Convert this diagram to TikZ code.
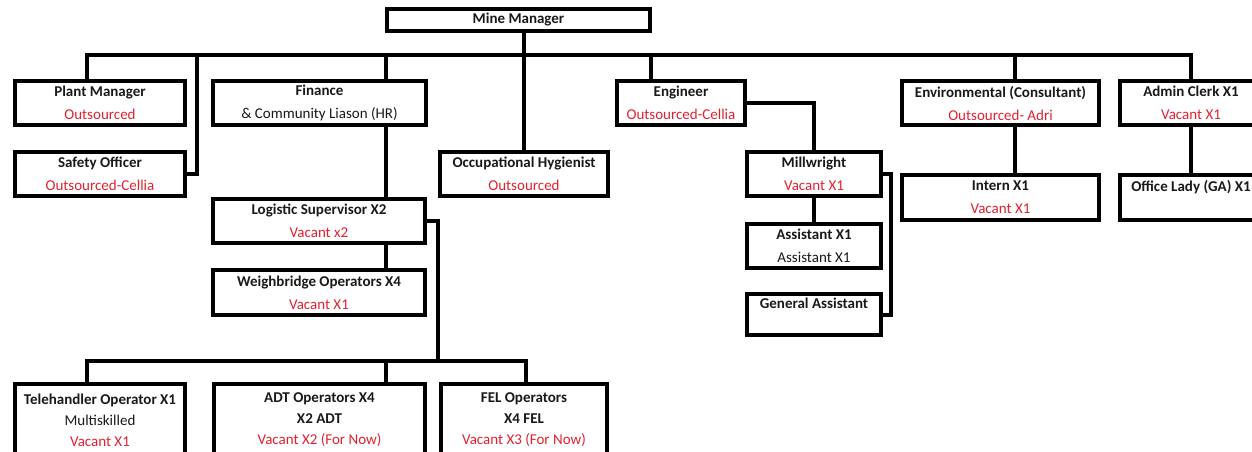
\documentclass[tikz,border=0pt]{standalone}
\usepackage{fontspec}
\setmainfont{Carlito}
\usepackage{tikz}
\definecolor{vacant}{RGB}{228,32,48}
\definecolor{ink}{RGB}{25,25,25}
\tikzset{
    post/.style={draw=black, line width=4pt, rectangle, align=center, inner sep=0pt,
        text=ink, font=\fontsize{15}{23}\selectfont},
    crew/.style={post, font=\fontsize{15}{21}\selectfont},
    link/.style={draw=black, line width=4pt}
}

\begin{document}
\begin{tikzpicture}[x=1pt, y=-1pt]
\path[use as bounding box, clip] (0,0) rectangle (1252,451);
\node[post, minimum width=263, minimum height=22] (mm) at (518.5,20) {\textbf{Mine Manager}};
\node[post, minimum width=170, minimum height=44] (pm) at (100,103)
    {\textbf{Plant Manager}\\\textcolor{vacant}{Outsourced}};
\node[post, minimum width=170, minimum height=44] (so) at (100,174)
    {\textbf{Safety Officer}\\\textcolor{vacant}{Outsourced-Cellia}};
\node[post, minimum width=213, minimum height=44] (fin) at (319.5,103)
    {\textbf{Finance}\\\& Community Liason (HR)};
\node[post, minimum width=168, minimum height=44] (oh) at (524,174)
    {\textbf{Occupational Hygienist}\\\textcolor{vacant}{Outsourced}};
\node[post, minimum width=128, minimum height=44] (eng) at (681,103)
    {\textbf{Engineer}\\\textcolor{vacant}{Outsourced-Cellia}};
\node[post, minimum width=134, minimum height=44] (mw) at (814,174)
    {\textbf{Millwright}\\\textcolor{vacant}{Vacant X1}};
\node[post, minimum width=134, minimum height=44] (as) at (814,246)
    {\textbf{Assistant X1}\\Assistant X1};
\node[post, minimum width=134, minimum height=41] (ga) at (814,314.5)
    {\textbf{General Assistant}\\~};
\node[post, minimum width=197, minimum height=44] (env) at (1000.5,103)
    {\textbf{Environmental (Consultant)}\\\textcolor{vacant}{Outsourced- Adri}};
\node[post, minimum width=197, minimum height=45] (int) at (1000.5,197.5)
    {\textbf{Intern X1}\\\textcolor{vacant}{Vacant X1}};
\node[post, minimum width=142, minimum height=44] (ac) at (1191,103)
    {\textbf{Admin Clerk X1}\\\textcolor{vacant}{Vacant X1}};
\node[post, minimum width=142, minimum height=45] (ol) at (1191,197.5)
    {\textbf{Office Lady (GA) X1}\\~};
\node[post, minimum width=212, minimum height=44] (ls) at (319,221)
    {\textbf{Logistic Supervisor X2}\\\textcolor{vacant}{Vacant x2}};
\node[post, minimum width=212, minimum height=45] (wb) at (319,292.5)
    {\textbf{Weighbridge Operators X4}\\\textcolor{vacant}{Vacant X1}};
\node[crew, minimum width=170, minimum height=72] (th) at (100,420)
    {\textbf{Telehandler Operator X1}\\Multiskilled\\\textcolor{vacant}{Vacant X1}};
\node[crew, minimum width=211, minimum height=72] (adt) at (319.5,420)
    {\textbf{ADT Operators X4}\\\textbf{X2 ADT}\\\textcolor{vacant}{Vacant X2 (For Now)}};
\node[crew, minimum width=166, minimum height=72] (fel) at (524,420)
    {\textbf{FEL Operators}\\\textbf{X4 FEL}\\\textcolor{vacant}{Vacant X3 (For Now)}};
\coordinate (busL) at (87,55);
\coordinate (busR) at (1191,55);
\coordinate (opsL) at (87,361);
\coordinate (opsR) at (526,361);
\draw[style={link}] (mm.south -| oh.north) -- (oh.north);
\draw[style={link}] ([xshift=-13pt]pm.north) |- (busR) -- (ac.north);
\draw[style={link}] (so.east) -- ++(10,0) -- ([xshift=10pt]so.east |- busL);
\draw[style={link}] ([xshift=66.5pt]fin.north) -- ([xshift=66.5pt]fin.north |- busL);
\draw[style={link}] ([xshift=-30pt]eng.north) -- ([xshift=-30pt]eng.north |- busL);
\draw[style={link}] ([xshift=14.5pt]env.north) -- ([xshift=14.5pt]env.north |- busL);
\draw[style={link}] ([xshift=14.5pt]env.south) -- ([xshift=14.5pt]int.north);
\draw[style={link}] (ac.south) -- (ol.north);
\draw[style={link}] (eng.east) -| (mw.north);
\draw[style={link}] (mw.south) -- (as.north);
\draw[style={link}] (mw.east) -- ++(8,0) |- (ga.east);
\draw[style={link}] ([xshift=66.5pt]fin.south) -- ([xshift=67pt]ls.north);
\draw[style={link}] ([xshift=67pt]ls.south) -- ([xshift=67pt]wb.north);
\draw[style={link}] (ls.east) -- ++(11,0) |- (opsL);
\draw[style={link}] ([xshift=-13pt]th.north) |- (opsR) -- (opsR |- fel.north);
\draw[style={link}] ([xshift=66.5pt]adt.north) -- ([xshift=66.5pt]adt.north |- opsL);
\end{tikzpicture}
\end{document}
